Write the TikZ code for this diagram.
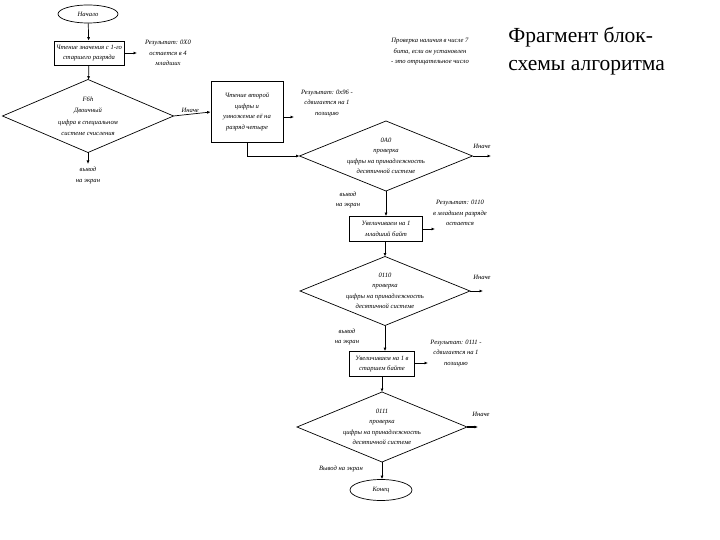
\documentclass[tikz,border=0pt]{standalone}
\usepackage{fontspec}
\setmainfont{Liberation Serif}
\usetikzlibrary{shapes.geometric,arrows.meta}
\begin{document}
\begin{tikzpicture}[x=1pt,y=-1pt,
  line width=0.7pt,
  every node/.style={font=\fontsize{6.6}{10.5}\selectfont\itshape, align=center, inner sep=1pt},
  term/.style={draw, ellipse, inner sep=0pt},
  box/.style={draw, rectangle, inner sep=1pt},
  dia/.style={draw, diamond, inner sep=0pt, outer sep=0pt},
  arr/.style={-{Latex[length=3.5pt,width=3pt]}},
  lbl/.style={font=\fontsize{6.6}{10.5}\selectfont\itshape}
]
\useasboundingbox (0,0) rectangle (720,540);

% title
\node[font=\fontsize{21.5}{28}\selectfont, align=left, anchor=west, inner sep=0pt] (title) at (508,51) {Фрагмент блок-\\схемы алгоритма};
\node[lbl] (topnote) at (430,52) {Проверка наличия в числе 7\\бита, если он установлен\\- это отрицательное число};

% left column
\node[term, minimum width=60pt, minimum height=18pt] (start) at (88,14) {Начало};
\node[box, minimum width=70pt, minimum height=24pt] (b1) at (89,53) {Чтение значения с 1-го\\старшего разряда};
\coordinate (r1) at (137,53);
\node[lbl] (t1) at (168,53) {Результат: 0Х0\\остается в 4\\младших};
\node[dia, minimum width=171pt, minimum height=73pt] (d1) at (88,116) {};
\node[font=\fontsize{6.6}{11.5}\selectfont\itshape] at (d1) {F6h\\Двоичный\\цифра в специальном\\системе счисления};
\coordinate (o1) at (88,164);
\node[lbl, anchor=north] (e1) at (88,166) {вывод\\на экран};

% box 2
\node[box, minimum width=72pt, minimum height=61pt] (b2) at (247,112) {Чтение второй\\цифры и\\умножение её на\\разряд четыре};
\coordinate (r2) at (294,117);
\node[lbl] (t2) at (327,103) {Результат: 0х96 -\\сдвигается на 1\\позицию};

% middle column
\node[dia, minimum width=173pt, minimum height=70pt] (d2) at (386,156) {};
\node at (d2) {0А0\\проверка\\цифры на принадлежность\\десятичной системе};
\coordinate (o2) at (491,156);
\node[lbl] (n2) at (482,146) {Иначе};
\node[lbl] (e2) at (348,200) {вывод\\на экран};

\node[box, minimum width=73pt, minimum height=25pt] (b3) at (386,229) {Увеличиваем на 1\\младший байт};
\coordinate (r3) at (435,229);
\node[lbl] (t3) at (460,213) {Результат: 0110\\в младшем разряде\\остается};

\node[dia, minimum width=170pt, minimum height=69pt] (d3) at (385,291) {};
\node at (d3) {0110\\проверка\\цифры на принадлежность\\десятичной системе};
\coordinate (o3) at (483,291);
\node[lbl] (n3) at (482,277) {Иначе};
\node[lbl] (e3) at (347,337) {вывод\\на экран};

\node[box, minimum width=65pt, minimum height=25pt] (b4) at (382,364) {Увеличиваем на 1 в\\старшем байте};
\coordinate (r4) at (428,363);
\node[lbl] (t4) at (456,353) {Результат: 0111 -\\сдвигается на 1\\позицию};

\node[dia, minimum width=170pt, minimum height=70pt] (d4) at (382,427) {};
\node at (d4) {0111\\проверка\\цифры на принадлежность\\десятичной системе};
\coordinate (o4) at (478,427);
\node[lbl] (n4) at (481,414) {Иначе};
\node[lbl] (e4) at (341,469) {Вывод на экран};

\node[term, minimum width=62pt, minimum height=21pt] (end) at (381,490) {Конец};

% connectors
\draw[arr] (start) -- (b1);
\draw[arr] (b1.east) -- (r1);
\draw[arr] (b1) -- (d1);
\draw[arr] (d1.east) -- node[lbl, above, pos=0.45] (n1) {Иначе} (b2.west);
\draw[arr] (d1.south) -- (o1);
\draw[arr] (b2.east |- r2) -- (r2);
\draw[arr] (b2.south) |- (d2.west);
\draw[arr] (d2.east) -- (o2);
\draw[arr] (d2.south) -- (b3.north -| d2.south);
\draw[arr] (b3.east) -- (r3);
\draw[arr] (b3.south -| d3.north) -- (d3.north);
\draw[arr] (d3.east) -- (o3);
\draw[arr] (d3.south) -- (b4.north -| d3.south);
\draw[arr] (b4.east |- r4) -- (r4);
\draw[arr] (b4.south -| d4.north) -- (d4.north);
\draw[arr, line width=1.2pt] (d4.east) -- (o4);
\draw[arr] (d4.south) -- (end.north -| d4.south);
\end{tikzpicture}
\end{document}
